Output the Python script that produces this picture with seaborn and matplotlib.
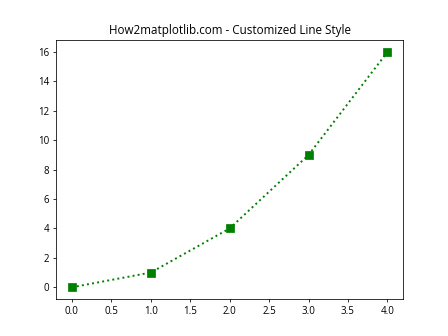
import matplotlib
matplotlib.use("Agg")
import matplotlib.pyplot as plt
import seaborn as sns
import pandas as pd

x_values = [0, 1, 2, 3, 4]
y_values = [0, 1, 4, 9, 16]
title = "How2matplotlib.com - Customized Line Style"

plt.rcParams['font.family'] = ['Open Sans', 'DejaVu Sans']

df = pd.DataFrame({"x": x_values, "y": y_values})
fig, ax = plt.subplots(figsize=(6.4, 4.8), dpi=70)
sns.lineplot(data=df, x="x", y="y", ax=ax, color="green", linestyle=":",
             linewidth=2, marker="s", markersize=8, markeredgecolor="green")
ax.set_title(title)
ax.set_xlabel("")
ax.set_ylabel("")
ax.set_xticks([0, 0.5, 1.0, 1.5, 2.0, 2.5, 3.0, 3.5, 4.0])
ax.set_yticks([0, 2, 4, 6, 8, 10, 12, 14, 16])
fig.savefig("out.png", dpi=70)
